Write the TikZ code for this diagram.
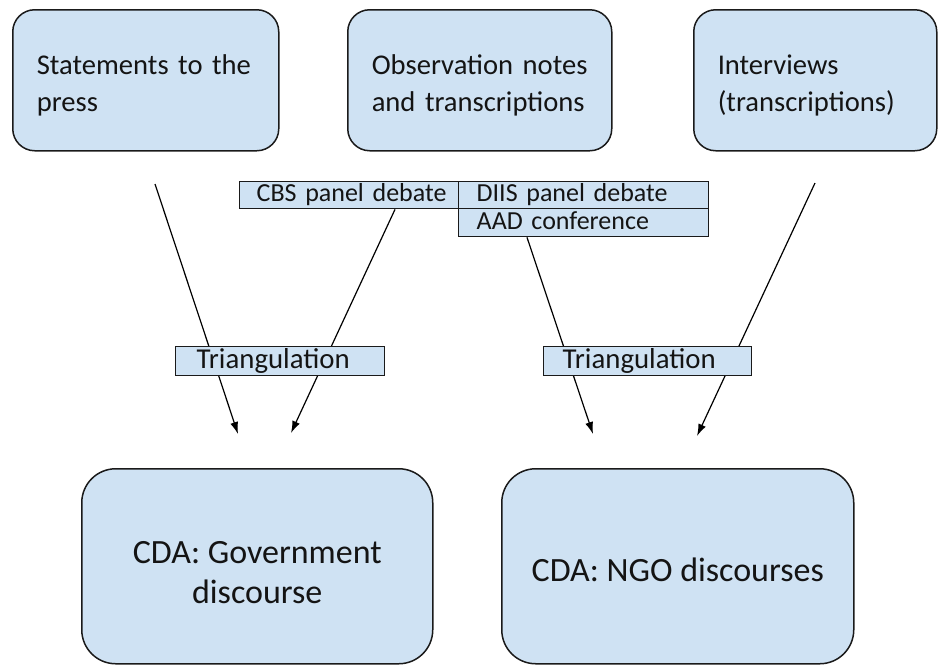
\documentclass[tikz,border=0pt]{standalone}
\usepackage{fontspec}
\setmainfont{Carlito}
\usetikzlibrary{arrows.meta}
\definecolor{boxblue}{HTML}{CFE2F3}
\definecolor{edgecol}{HTML}{1A1A1A}
\definecolor{textcol}{HTML}{141414}
\newcommand{\lpad}[1]{\hspace*{#1}}
\begin{document}
\begin{tikzpicture}[x=1pt,y=-1pt,
  topbox/.style={draw=edgecol, line width=1.5pt, fill=boxblue, rounded corners=22pt,
     anchor=north west, inner sep=0pt, align=left, minimum height=141pt, text=textcol,
     font=\fontsize{28.6}{37}\selectfont},
  botbox/.style={draw=edgecol, line width=1.5pt, fill=boxblue, rounded corners=34pt,
     anchor=north west, inner sep=0pt, align=center, minimum height=195pt, text=textcol,
     font=\fontsize{34}{40}\selectfont},
  lab/.style={draw=edgecol, line width=1.4pt, fill=boxblue, anchor=north west,
     inner sep=0pt, align=left, text height=19pt, text depth=6pt, text=textcol,
     font=\fontsize{26}{30}\selectfont},
  tri/.style={lab, minimum height=29pt, text height=21pt, text depth=6pt,
     font=\fontsize{28.8}{32}\selectfont},
  arr/.style={draw=black, line width=1.2pt, -{Latex[length=12pt,width=8pt]}}
]
\useasboundingbox (0,0) rectangle (947,665);

% top source boxes
\node[topbox, text width=266pt] (s1) at (12,9)
  {\rule{0pt}{31pt}\lpad{24pt}Statements to the\\\lpad{24pt}press};
\node[topbox, text width=264pt] (s2) at (347,9)
  {\rule{0pt}{31pt}\lpad{24pt}Observation notes\\\lpad{24pt}and transcriptions};
\node[topbox, text width=243pt] (s3) at (693,9)
  {\rule{0pt}{31pt}\lpad{24pt}Interviews\\\lpad{24pt}(transcriptions)};

% event labels
\node[lab, text width=219pt, minimum height=27pt] (cbs) at (239,181)
  {\lpad{17pt}CBS panel debate};
\node[lab, text width=250pt, minimum height=27pt] (diis) at (458,181)
  {\lpad{18pt}DIIS panel debate};
\node[lab, text width=250pt, minimum height=28pt] (aad) at (458,208)
  {\lpad{18pt}AAD conference};

% arrow end points
\coordinate (a1s) at (155,184);
\coordinate (a1e) at (238,434);
\coordinate (a2e) at (291,433);
\coordinate (a3e) at (593,434);
\coordinate (a4s) at (815,183);
\coordinate (a4e) at (697,436);

\draw[arr] (a1s) -- (a1e);
\draw[arr] ([xshift=156pt]cbs.south west) -- (a2e);
\draw[arr] ([xshift=69pt]aad.south west) -- (a3e);
\draw[arr] (a4s) -- (a4e);

% triangulation labels (over the arrows)
\node[tri, text width=209pt] (t1) at (175,346) {\lpad{21pt}Triangulation};
\node[tri, text width=208pt] (t2) at (543,346) {\lpad{19pt}Triangulation};

% bottom analysis boxes
\node[botbox, minimum width=351pt] (g) at (81,468) {\rule{0pt}{34pt}CDA: Government\\discourse};
\node[botbox, minimum width=352pt] (n) at (501,468) {\rule{0pt}{31pt}CDA: NGO discourses};
\end{tikzpicture}
\end{document}
